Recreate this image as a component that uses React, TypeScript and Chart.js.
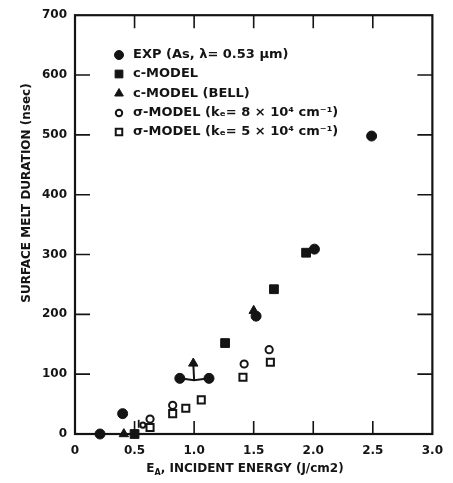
import React, { useEffect, useRef } from "react";
import { Chart, registerables } from "chart.js";

Chart.register(...registerables);

const FONT = '"DejaVu Sans", sans-serif';
const INK = "#141414";

// ---- data ----
const expX = [0.21, 0.4, 0.88, 1.125, 1.52, 2.01, 2.49];
const expY = [0, 34, 93, 93, 197, 309, 498];
const cModelX = [0.5, 1.26, 1.67, 1.94];
const cModelY = [0, 152, 242, 303];
const bellX = [0.41, 0.993, 1.5];
const bellY = [0, 118, 206];
const sigma8X = [0.57, 0.63, 0.82, 1.42, 1.63];
const sigma8Y = [15, 25, 48, 117, 141];
const sigma8R = [2.6, 3.6, 3.6, 3.6, 3.6];
const sigma5X = [0.63, 0.82, 0.93, 1.06, 1.41, 1.64];
const sigma5Y = [11, 34, 43, 57, 95, 120];
const markX = [0.535];
const markY = [17];
const linkBottomX = [0.21, 0.5];
const linkBottomY = [0, 0];
const linkBarX = [0.88, 1.0, 1.125];
const linkBarY = [93, 90, 93];
const linkStemX = [0.993, 1.0];
const linkStemY = [118, 90];

const xTicks = [0, 0.5, 1, 1.5, 2, 2.5, 3];
const xTickLabels = ["0", "0.5", "1.0", "1.5", "2.0", "2.5", "3.0"];
const yTicks = [0, 100, 200, 300, 400, 500, 600, 700];
const yTickLabels = ["0", "100", "200", "300", "400", "500", "600", "700"];

const legendLabels = [
  "EXP (As, λ= 0.53 μm)",
  "c-MODEL",
  "c-MODEL (BELL)",
  "σ-MODEL (kₑ= 8 × 10⁴ cm⁻¹)",
  "σ-MODEL (kₑ= 5 × 10⁴ cm⁻¹)",
];
const yTitle = "SURFACE MELT DURATION (nsec)";
const xTitleMain = "E";
const xTitleSub = "A";
const xTitleRest = ", INCIDENT ENERGY (J/cm2)";

const pts = (xs: number[], ys: number[]) => xs.map((x, i) => ({ x, y: ys[i] }));

type Marker = { style: string; r: number; fill: string; lw: number };
const legendMarkers: Marker[] = [
  { style: "circle", r: 4.5, fill: INK, lw: 1 },
  { style: "rect", r: 5.5, fill: INK, lw: 1 },
  { style: "triangle", r: 5, fill: INK, lw: 1 },
  { style: "circle", r: 3.2, fill: "#fff", lw: 2 },
  { style: "rect", r: 4.6, fill: "#fff", lw: 2 },
];

function drawMarker(ctx: CanvasRenderingContext2D, m: Marker, x: number, y: number) {
  ctx.save();
  ctx.beginPath();
  if (m.style === "circle") {
    ctx.arc(x, y, m.r, 0, Math.PI * 2);
  } else if (m.style === "rect") {
    const s = Math.SQRT1_2 * m.r;
    ctx.rect(x - s, y - s, 2 * s, 2 * s);
  } else {
    let rad = 0;
    ctx.moveTo(x + Math.sin(rad) * m.r, y - Math.cos(rad) * m.r);
    rad += (2 * Math.PI) / 3;
    ctx.lineTo(x + Math.sin(rad) * m.r, y - Math.cos(rad) * m.r);
    rad += (2 * Math.PI) / 3;
    ctx.lineTo(x + Math.sin(rad) * m.r, y - Math.cos(rad) * m.r);
    ctx.closePath();
  }
  ctx.fillStyle = m.fill;
  ctx.fill();
  ctx.lineWidth = m.lw;
  ctx.strokeStyle = INK;
  ctx.stroke();
  ctx.restore();
}

const framePlugin = {
  id: "frame",
  beforeDatasetsDraw(chart: any) {
    const { ctx, chartArea: a, scales } = chart;
    ctx.save();
    ctx.strokeStyle = INK;
    ctx.lineWidth = 2.2;
    ctx.strokeRect(a.left, a.top, a.right - a.left, a.bottom - a.top);
    ctx.lineWidth = 1.6;
    ctx.beginPath();
    xTicks.slice(1, -1).forEach((v) => {
      const px = scales.x.getPixelForValue(v);
      ctx.moveTo(px, a.bottom);
      ctx.lineTo(px, a.bottom - 13);
      ctx.moveTo(px, a.top);
      ctx.lineTo(px, a.top + 13);
    });
    yTicks.slice(1, -1).forEach((v) => {
      const py = scales.y.getPixelForValue(v);
      ctx.moveTo(a.left, py);
      ctx.lineTo(a.left + 15, py);
      ctx.moveTo(a.right, py);
      ctx.lineTo(a.right - 15, py);
    });
    ctx.stroke();
    ctx.restore();
  },
  afterDraw(chart: any) {
    const { ctx } = chart;
    ctx.save();
    ctx.fillStyle = INK;
    // legend
    ctx.font = `bold 13px ${FONT}`;
    ctx.textBaseline = "middle";
    ctx.textAlign = "left";
    const rows = [55, 74, 93.5, 113, 132];
    legendLabels.forEach((t, i) => {
      drawMarker(ctx, legendMarkers[i], 119, rows[i]);
      ctx.fillStyle = INK;
      ctx.fillText(t, 133, rows[i]);
    });
    // y title
    ctx.save();
    ctx.translate(27, 193);
    ctx.rotate(-Math.PI / 2);
    ctx.textAlign = "center";
    ctx.font = `bold 12px ${FONT}`;
    ctx.fillText(yTitle, 0, 0);
    ctx.restore();
    // x title
    ctx.font = `bold 12px ${FONT}`;
    const wMain = ctx.measureText(xTitleMain).width;
    ctx.font = `bold 8px ${FONT}`;
    const wSub = ctx.measureText(xTitleSub).width;
    ctx.font = `bold 12px ${FONT}`;
    const wRest = ctx.measureText(xTitleRest).width;
    const total = wMain + wSub + wRest;
    let x0 = 245 - total / 2;
    const yT = 469;
    ctx.textAlign = "left";
    ctx.fillText(xTitleMain, x0, yT);
    x0 += wMain;
    ctx.font = `bold 8px ${FONT}`;
    ctx.fillText(xTitleSub, x0, yT + 4);
    x0 += wSub;
    ctx.font = `bold 12px ${FONT}`;
    ctx.fillText(xTitleRest, x0, yT);
    ctx.restore();
  },
};

export default function App() {
  const ref = useRef<HTMLCanvasElement | null>(null);
  useEffect(() => {
    if (!ref.current) return;
    const filled = {
      backgroundColor: INK,
      borderColor: INK,
      borderWidth: 1,
      clip: false as const,
    };
    const open = {
      backgroundColor: "#fff",
      borderColor: INK,
      borderWidth: 2,
      clip: false as const,
    };
    const link = {
      type: "line" as const,
      showLine: true,
      tension: 0,
      cubicInterpolationMode: "default" as const,
      borderColor: INK,
      borderWidth: 2,
      pointRadius: 0,
      fill: false,
      clip: false as const,
      order: 10,
    };
    const chart = new Chart(ref.current, {
      type: "scatter",
      data: {
        datasets: [
          { label: "linkBottom", data: pts(linkBottomX, linkBottomY), ...link },
          { label: "linkBar", data: pts(linkBarX, linkBarY), ...link },
          { label: "linkStem", data: pts(linkStemX, linkStemY), ...link },
          { label: legendLabels[0], data: pts(expX, expY), pointStyle: "circle", pointRadius: 5, ...filled },
          { label: legendLabels[1], data: pts(cModelX, cModelY), pointStyle: "rect", pointRadius: 6.2, ...filled },
          { label: legendLabels[2], data: pts(bellX, bellY), pointStyle: "triangle", pointRadius: 5.4, ...filled },
          { label: legendLabels[3], data: pts(sigma8X, sigma8Y), pointStyle: "circle", pointRadius: sigma8R, ...open },
          { label: legendLabels[4], data: pts(sigma5X, sigma5Y), pointStyle: "rect", pointRadius: 5, ...open },
          {
            label: "mark",
            data: pts(markX, markY),
            pointStyle: "line",
            rotation: 90,
            pointRadius: 4,
            borderColor: INK,
            borderWidth: 1.8,
            clip: false as const,
          },
        ] as any,
      },
      options: {
        animation: false,
        responsive: false,
        events: [],
        layout: { padding: { top: 13, right: 13, left: 0, bottom: 0 } },
        plugins: { legend: { display: false }, tooltip: { enabled: false }, title: { display: false } },
        elements: { point: { hoverRadius: 0 }, line: { tension: 0 } },
        scales: {
          x: {
            type: "linear",
            min: 0,
            max: 3,
            afterBuildTicks: (s: any) => {
              s.ticks = xTicks.map((v) => ({ value: v }));
            },
            afterFit: (s: any) => {
              s.height = 49;
            },
            grid: { display: false, drawTicks: false },
            border: { display: false },
            ticks: {
              color: INK,
              padding: 10,
              maxRotation: 0,
              autoSkip: false,
              font: { family: FONT, size: 12, weight: "bold" },
              callback: (v: any) => xTickLabels[xTicks.indexOf(Number(v))] ?? "",
            },
          },
          y: {
            type: "linear",
            min: 0,
            max: 700,
            afterBuildTicks: (s: any) => {
              s.ticks = yTicks.map((v) => ({ value: v }));
            },
            afterFit: (s: any) => {
              s.width = 75;
            },
            grid: { display: false, drawTicks: false },
            border: { display: false },
            ticks: {
              color: INK,
              padding: 8,
              autoSkip: false,
              font: { family: FONT, size: 12, weight: "bold" },
              callback: (v: any) => yTickLabels[yTicks.indexOf(Number(v))] ?? "",
            },
          },
        },
      } as any,
      plugins: [framePlugin],
    });
    return () => chart.destroy();
  }, []);
  return (
    <div style={{ position: "absolute", left: 0, top: 0, width: 453, height: 483, background: "#fff" }}>
      <canvas ref={ref} width={453} height={483} style={{ display: "block" }} />
    </div>
  );
}
